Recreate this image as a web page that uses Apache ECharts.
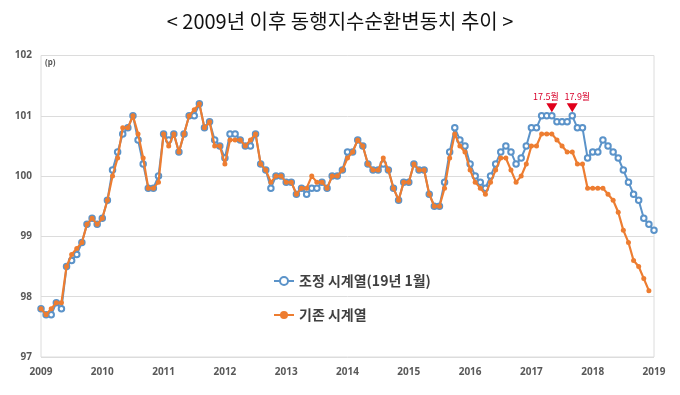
<!DOCTYPE html>
<html><head><meta charset="utf-8">
<script src="https://cdn.jsdelivr.net/npm/echarts@6/dist/echarts.min.js"></script>
<style>html,body{margin:0;padding:0;background:#fff}#c{width:680px;height:395px}</style>
</head><body><div id="c"></div>
<script>
var titleText = '< 2009년 이후 동행지수순환변동치 추이 >';
var startYear = 2009;
var yearTicks = ['2009','2010','2011','2012','2013','2014','2015','2016','2017','2018','2019'];
var seriesNames = ['조정 시계열(19년 1월)', '기존 시계열'];
// 조정 시계열 (2009.01 ~ 2019.01)
var adjusted = [
  97.8, 97.7, 97.7, 97.9, 97.8, 98.5, 98.6, 98.7, 98.9, 99.2, 99.3, 99.2,
  99.3, 99.6, 100.1, 100.4, 100.7, 100.8, 101.0, 100.6, 100.2, 99.8, 99.8, 100.0,
  100.7, 100.6, 100.7, 100.4, 100.7, 101.0, 101.0, 101.2, 100.8, 100.9, 100.6, 100.5,
  100.3, 100.7, 100.7, 100.6, 100.5, 100.5, 100.7, 100.2, 100.1, 99.8, 100.0, 100.0,
  99.9, 99.9, 99.7, 99.8, 99.7, 99.8, 99.8, 99.9, 99.8, 100.0, 100.0, 100.1,
  100.4, 100.4, 100.6, 100.5, 100.2, 100.1, 100.1, 100.2, 100.1, 99.8, 99.6, 99.9,
  99.9, 100.2, 100.1, 100.1, 99.7, 99.5, 99.5, 99.9, 100.4, 100.8, 100.6, 100.5,
  100.2, 100.0, 99.9, 99.8, 100.0, 100.2, 100.4, 100.5, 100.4, 100.2, 100.3, 100.5,
  100.8, 100.8, 101.0, 101.0, 101.0, 100.9, 100.9, 100.9, 101.0, 100.8, 100.8, 100.3,
  100.4, 100.4, 100.6, 100.5, 100.4, 100.3, 100.1, 99.9, 99.7, 99.6, 99.3, 99.2,
  99.1
];
// 기존 시계열 (2009.01 ~ 2018.12)
var existing = [
  97.8, 97.7, 97.8, 97.9, 97.9, 98.5, 98.7, 98.8, 98.9, 99.2, 99.3, 99.2,
  99.3, 99.6, 100.0, 100.3, 100.8, 100.8, 101.0, 100.7, 100.3, 99.8, 99.8, 99.9,
  100.7, 100.5, 100.7, 100.4, 100.7, 101.0, 101.1, 101.2, 100.8, 100.9, 100.5, 100.5,
  100.2, 100.6, 100.6, 100.6, 100.5, 100.6, 100.7, 100.2, 100.1, 99.9, 100.0, 100.0,
  99.9, 99.9, 99.7, 99.8, 99.8, 100.0, 99.9, 99.9, 99.8, 100.0, 100.0, 100.1,
  100.3, 100.4, 100.6, 100.5, 100.2, 100.1, 100.1, 100.3, 100.1, 99.8, 99.6, 99.9,
  99.9, 100.2, 100.1, 100.1, 99.7, 99.5, 99.5, 99.8, 100.3, 100.7, 100.5, 100.4,
  100.1, 99.9, 99.8, 99.7, 99.9, 100.1, 100.3, 100.3, 100.1, 99.9, 100.0, 100.2,
  100.5, 100.5, 100.7, 100.7, 100.7, 100.6, 100.5, 100.4, 100.4, 100.2, 100.2, 99.8,
  99.8, 99.8, 99.8, 99.7, 99.6, 99.4, 99.1, 98.9, 98.6, 98.5, 98.3, 98.1
];
var peakLabels = ['17.5월', '17.9월'];
var peakIndex = [100, 104];

var months = [];
for (var i = 0; i < adjusted.length; i++) {
  months.push((startYear + Math.floor(i / 12)) + '.' + (i % 12 + 1));
}

var chart = echarts.init(document.getElementById('c'), null, {renderer: 'canvas'});
var axisFont = {fontFamily: 'Noto Sans', fontSize: 10, fontWeight: 'bold', color: '#595959'};
var labelShift = [[-6, 0], [5, 0]];
chart.setOption({
  animation: false,
  backgroundColor: '#ffffff',
  title: {
    text: titleText, left: 'center', top: 6,
    textStyle: {fontFamily: 'Noto Sans CJK KR', fontSize: 20, fontWeight: 'normal', color: '#111'}
  },
  legend: {
    orient: 'vertical', left: 268, top: 269, itemGap: 20,
    itemWidth: 20, itemHeight: 10,
    data: seriesNames,
    textStyle: {fontFamily: 'Noto Sans CJK KR', fontSize: 14, fontWeight: 'bold', color: '#404040'}
  },
  grid: {left: 41, right: 26, top: 55.5, bottom: 38, show: true, borderColor: '#dcdcdc', borderWidth: 1},
  graphic: [{type: 'text', left: 45, top: 59, style: {text: '(p)', font: 'bold 8px "Noto Sans"', fill: '#595959'}}],
  xAxis: {
    type: 'category', boundaryGap: false, data: months,
    axisLine: {show: false}, axisTick: {show: false},
    axisLabel: Object.assign({interval: 11, margin: 10, formatter: function (v, idx) { return yearTicks[Math.floor(idx / 12)]; }}, axisFont),
    splitLine: {show: false}
  },
  yAxis: {
    type: 'value', min: 97, max: 102, interval: 1,
    axisLine: {show: false}, axisTick: {show: false},
    axisLabel: Object.assign({margin: 9}, axisFont),
    splitLine: {lineStyle: {color: '#dcdcdc', width: 1}}
  },
  series: [
    {
      name: seriesNames[0], type: 'line', data: adjusted, z: 2,
      symbol: 'emptyCircle', symbolSize: 5.5, showAllSymbol: true,
      lineStyle: {color: '#5b93c9', width: 2},
      itemStyle: {color: '#5b93c9', borderColor: '#5b93c9', borderWidth: 1},
      markPoint: {
        symbol: 'triangle', symbolSize: [11, 9], symbolRotate: 180, symbolOffset: [0, -8],
        itemStyle: {color: '#e0001b'},
        label: {show: true, position: 'top', distance: 2, color: '#d8002a', fontSize: 9, fontFamily: 'Noto Sans CJK KR', fontWeight: 'normal'},
        data: peakIndex.map(function (ix, k) {
          return {coord: [ix, adjusted[ix]], value: peakLabels[k], label: {formatter: peakLabels[k], offset: labelShift[k]}};
        })
      }
    },
    {
      name: seriesNames[1], type: 'line', data: existing, z: 3,
      symbol: 'circle', symbolSize: 5, showAllSymbol: true,
      lineStyle: {color: '#ed7d31', width: 2.2},
      itemStyle: {color: '#ed7d31'}
    }
  ]
});
</script></body></html>
